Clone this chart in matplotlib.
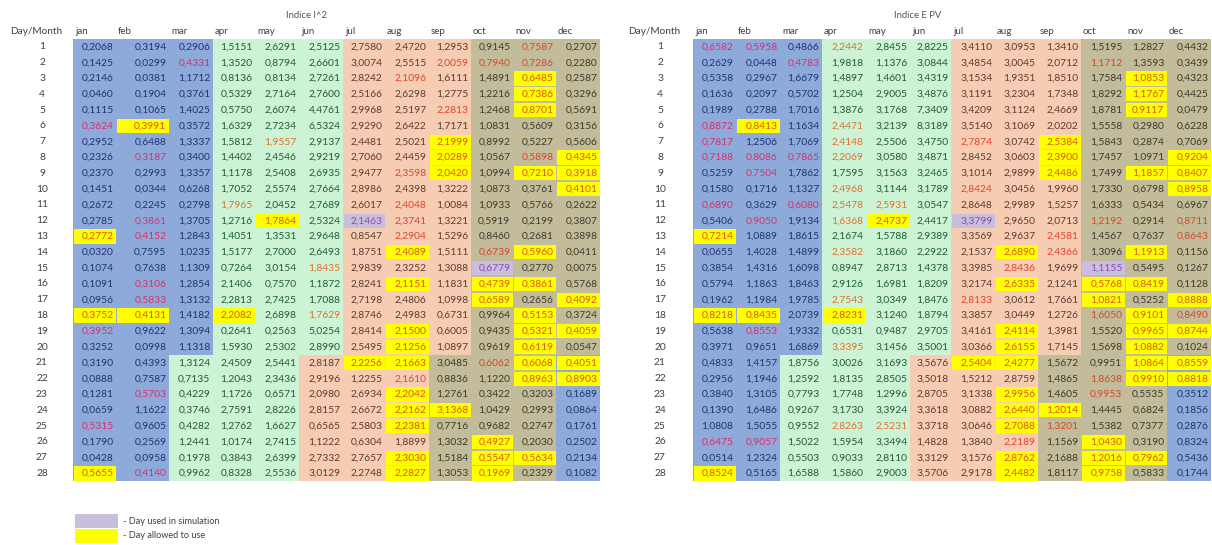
import matplotlib
matplotlib.use("Agg")
import matplotlib.pyplot as plt
from matplotlib.patches import Rectangle

MONTHS = ['jan', 'feb', 'mar', 'apr', 'may', 'jun', 'jul', 'aug', 'sep', 'oct', 'nov', 'dec']
DAYS = list(range(1, 29))

# ---------------- Indice I^2 (left table) ----------------
I2_JAN = [0.2068, 0.1425, 0.2146, 0.0460, 0.1115, 0.3624, 0.2952, 0.2326, 0.2370, 0.1451, 0.2672, 0.2785, 0.2772, 0.0320,
          0.1074, 0.1091, 0.0956, 0.3752, 0.3952, 0.3252, 0.3190, 0.0888, 0.1281, 0.0659, 0.5315, 0.1790, 0.0428, 0.5655]
I2_FEB = [0.3194, 0.0299, 0.0381, 0.1904, 0.1065, 0.3991, 0.6488, 0.3187, 0.2993, 0.0344, 0.2245, 0.3861, 0.4152, 0.7595,
          0.7638, 0.3106, 0.5833, 0.4131, 0.9622, 0.0998, 0.4393, 0.7587, 0.5703, 1.1622, 0.9605, 0.2569, 0.0958, 0.4140]
I2_MAR = [0.2906, 0.4331, 1.1712, 0.3761, 1.4025, 0.3572, 1.3337, 0.3400, 1.3357, 0.6268, 0.2798, 1.3705, 1.2843, 1.0235,
          1.1309, 1.2854, 1.3132, 1.4182, 1.3094, 1.1318, 1.3124, 0.7135, 0.4229, 0.3746, 0.4282, 1.2441, 0.1978, 0.9962]
I2_APR = [1.5151, 1.3520, 0.8136, 0.5329, 0.5750, 1.6329, 1.5812, 1.4402, 1.1178, 1.7052, 1.7965, 1.2716, 1.4051, 1.5177,
          0.7264, 2.1406, 2.2813, 2.2082, 0.2641, 1.5930, 2.4509, 1.2043, 1.1726, 2.7591, 1.2762, 1.0174, 0.3843, 0.8328]
I2_MAY = [2.6291, 0.8794, 0.8134, 2.7164, 2.6074, 2.7234, 1.9557, 2.4546, 2.5408, 2.5574, 2.0452, 1.7864, 1.3531, 2.7000,
          3.0154, 0.7570, 2.7425, 2.6898, 0.2563, 2.5302, 2.5441, 2.3436, 0.6571, 2.8226, 1.6627, 2.7415, 2.6399, 2.5536]
I2_JUN = [2.5125, 2.6601, 2.7261, 2.7600, 4.4761, 6.5324, 2.9137, 2.9219, 2.6935, 2.7664, 2.7689, 2.5324, 2.9648, 2.6493,
          1.8435, 1.1872, 1.7088, 1.7629, 5.0254, 2.8990, 2.8187, 2.9196, 2.0980, 2.8157, 0.6565, 1.1222, 2.7332, 3.0129]
I2_JUL = [2.7580, 3.0074, 2.8242, 2.5166, 2.9968, 2.9290, 2.4481, 2.7060, 2.9477, 2.8986, 2.6017, 2.1463, 0.8547, 1.8751,
          2.9839, 2.8241, 2.7198, 2.8746, 2.8414, 2.5495, 2.2256, 1.2255, 2.6934, 2.6672, 2.5803, 0.6304, 2.7657, 2.2748]
I2_AUG = [2.4720, 2.5515, 2.1096, 2.6298, 2.5197, 2.6422, 2.5021, 2.4459, 2.3598, 2.4398, 2.4048, 2.3741, 2.2904, 2.4089,
          2.3252, 2.1151, 2.4806, 2.4983, 2.1500, 2.1256, 2.1663, 2.1610, 2.2042, 2.2162, 2.2381, 1.8899, 2.3030, 2.2827]
I2_SEP = [1.2953, 2.0059, 1.6111, 1.2775, 2.2813, 1.7171, 2.1999, 2.0289, 2.0420, 1.3222, 1.0084, 1.3221, 1.5296, 1.5111,
          1.3088, 1.1831, 1.0998, 0.6731, 0.6005, 1.0897, 3.0485, 0.8836, 1.2761, 3.1368, 0.7716, 1.3032, 1.5184, 1.3053]
I2_OCT = [0.9145, 0.7940, 1.4891, 1.2216, 1.2468, 1.0831, 0.8992, 1.0567, 1.0994, 1.0873, 1.0933, 0.5919, 0.8460, 0.6739,
          0.6779, 0.4739, 0.6589, 0.9964, 0.9435, 0.9619, 0.6062, 1.1220, 0.3422, 1.0429, 0.9682, 0.4927, 0.5547, 0.1969]
I2_NOV = [0.7587, 0.7286, 0.6485, 0.7386, 0.8701, 0.5609, 0.5227, 0.5898, 0.7210, 0.3761, 0.5766, 0.2199, 0.2681, 0.5960,
          0.2770, 0.3861, 0.2656, 0.5153, 0.5321, 0.6119, 0.6068, 0.8963, 0.3203, 0.2993, 0.2747, 0.2030, 0.5634, 0.2329]
I2_DEC = [0.2707, 0.2280, 0.2587, 0.3296, 0.5691, 0.3156, 0.5606, 0.4345, 0.3918, 0.4101, 0.2622, 0.3807, 0.3898, 0.0411,
          0.0075, 0.5768, 0.4092, 0.3724, 0.4059, 0.0547, 0.4051, 0.8903, 0.1689, 0.0864, 0.1761, 0.2502, 0.2134, 0.1082]

# ---------------- Indice E PV (right table) ----------------
EPV_JAN = [0.6582, 0.2629, 0.5358, 0.1636, 0.1989, 0.8872, 0.7817, 0.7188, 0.5259, 0.1580, 0.6890, 0.5406, 0.7214, 0.0655,
           0.3854, 0.5794, 0.1962, 0.8218, 0.5638, 0.3971, 0.4833, 0.2956, 0.3840, 0.1390, 1.0808, 0.6475, 0.0514, 0.8524]
EPV_FEB = [0.5958, 0.0448, 0.2967, 0.2097, 0.2788, 0.8413, 1.2506, 0.8086, 0.7504, 0.1716, 0.3629, 0.9050, 1.0889, 1.4028,
           1.4316, 1.1863, 1.1984, 0.8435, 0.8553, 0.9651, 1.4157, 1.1946, 1.3105, 1.6486, 1.5055, 0.9057, 1.2324, 0.5165]
EPV_MAR = [0.4866, 0.4783, 1.6679, 0.5702, 1.7016, 1.1634, 1.7069, 0.7865, 1.7862, 1.1327, 0.6080, 1.9134, 1.8615, 1.4899,
           1.6098, 1.8463, 1.9785, 2.0739, 1.9332, 1.6869, 1.8756, 1.2592, 0.7793, 0.9267, 0.9552, 1.5022, 0.5503, 1.6588]
EPV_APR = [2.2442, 1.9818, 1.4897, 1.2504, 1.3876, 2.4471, 2.4148, 2.2069, 1.7595, 2.4968, 2.5478, 1.6368, 2.1674, 2.3582,
           0.8947, 2.9126, 2.7543, 2.8231, 0.6531, 3.3395, 3.0026, 1.8135, 1.7748, 3.1730, 2.8263, 1.5954, 0.9033, 1.5860]
EPV_MAY = [2.8455, 1.1376, 1.4601, 2.9005, 3.1768, 3.2139, 2.5506, 3.0580, 3.1563, 3.1144, 2.5931, 2.4737, 1.5788, 3.1860,
           2.8713, 1.6981, 3.0349, 3.1240, 0.9487, 3.1456, 3.1693, 2.8505, 1.2996, 3.3924, 2.5231, 3.3494, 2.8110, 2.9003]
EPV_JUN = [2.8225, 3.0844, 3.4319, 3.4876, 7.3409, 8.3189, 3.4750, 3.4871, 3.2465, 3.1789, 3.0547, 2.4417, 2.9389, 2.2922,
           1.4378, 1.8209, 1.8476, 1.8794, 2.9705, 3.5001, 3.5676, 3.5018, 2.8705, 3.3618, 3.3718, 1.4828, 3.3129, 3.5706]
EPV_JUL = [3.4110, 3.4854, 3.1534, 3.1191, 3.4209, 3.5140, 2.7874, 2.8452, 3.1014, 2.8424, 2.8648, 3.3799, 3.3569, 2.1537,
           3.3985, 3.2174, 2.8133, 3.3857, 3.4161, 3.0366, 2.5404, 1.5212, 3.1338, 3.0882, 3.0646, 1.3840, 3.1576, 2.9178]
EPV_AUG = [3.0953, 3.0045, 1.9351, 3.2304, 3.1124, 3.1069, 3.0742, 3.0603, 2.9899, 3.0456, 2.9989, 2.9650, 2.9637, 2.6890,
           2.8436, 2.6335, 3.0612, 3.0449, 2.4114, 2.6155, 2.4277, 2.8759, 2.9956, 2.6440, 2.7088, 2.2189, 2.8762, 2.4482]
EPV_SEP = [1.3410, 2.0712, 1.8510, 1.7348, 2.4669, 2.0202, 2.5384, 2.3900, 2.4486, 1.9960, 1.5257, 2.0713, 2.4581, 2.4366,
           1.9699, 2.1241, 1.7661, 1.2726, 1.3981, 1.7145, 1.5672, 1.4865, 1.4605, 1.2014, 1.3201, 1.1569, 2.1688, 1.8117]
EPV_OCT = [1.5195, 1.1712, 1.7584, 1.8292, 1.8781, 1.5558, 1.5843, 1.7457, 1.7499, 1.7330, 1.6333, 1.2192, 1.4567, 1.3096,
           1.1155, 0.5768, 1.0821, 1.6050, 1.5520, 1.5698, 0.9951, 1.8638, 0.9953, 1.4445, 1.5382, 1.0430, 1.2016, 0.9758]
EPV_NOV = [1.2827, 1.3593, 1.0853, 1.1767, 0.9117, 0.2980, 0.2874, 1.0971, 1.1857, 0.6798, 0.5434, 0.2914, 0.7637, 1.1913,
           0.5495, 0.8419, 0.5252, 0.9101, 0.9965, 1.0882, 1.0864, 0.9910, 0.5535, 0.6824, 0.7377, 0.3190, 0.7962, 0.5833]
EPV_DEC = [0.4432, 0.3439, 0.4323, 0.4425, 0.0479, 0.6228, 0.7069, 0.9204, 0.8407, 0.8958, 0.6967, 0.8711, 0.8643, 0.1156,
           0.1267, 0.1128, 0.8888, 0.8490, 0.8744, 0.1024, 0.8559, 0.8818, 0.3512, 0.1856, 0.2876, 0.8324, 0.5436, 0.1744]

# Days highlighted (same in both tables)
ALLOWED = {'jan': [13, 18, 28], 'feb': [6, 18], 'apr': [18], 'may': [12], 'jul': [21],
           'aug': [14, 16, 19, 20, 21, 23, 24, 25, 27, 28], 'sep': [7, 8, 9, 24],
           'oct': [16, 17, 26, 27, 28],
           'nov': [3, 4, 5, 9, 14, 16, 18, 19, 20, 21, 22, 27],
           'dec': [8, 9, 10, 17, 19, 21, 22]}
USED = {'jul': [12], 'oct': [15]}

# Values printed in red font
I2_RED = {'jan': [6, 19, 25], 'feb': [8, 12, 13, 16, 17, 23, 28], 'mar': [2], 'apr': [11], 'may': [7],
          'jun': [15, 18], 'aug': [3, 9, 11, 12, 13, 22], 'sep': [2, 5], 'oct': [2, 14, 21], 'nov': [1, 2, 8]}
EPV_RED = {'jan': [1, 6, 7, 8, 11, 26], 'feb': [1, 8, 9, 12, 19, 26], 'mar': [2, 8, 11],
           'apr': [1, 6, 7, 8, 10, 11, 12, 14, 17, 20, 25], 'may': [11, 25], 'jul': [7, 10, 17],
           'aug': [15, 26], 'sep': [13, 14, 25], 'oct': [2, 12, 18, 22, 23], 'dec': [12, 13, 18]}

I2_VALUES = [I2_JAN, I2_FEB, I2_MAR, I2_APR, I2_MAY, I2_JUN, I2_JUL, I2_AUG, I2_SEP, I2_OCT, I2_NOV, I2_DEC]
EPV_VALUES = [EPV_JAN, EPV_FEB, EPV_MAR, EPV_APR, EPV_MAY, EPV_JUN, EPV_JUL, EPV_AUG, EPV_SEP, EPV_OCT, EPV_NOV, EPV_DEC]

# ---------------- styling ----------------
SEASON_BG = {'winter': '#8EAADB', 'spring': '#CDF3D6', 'summer': '#F6CCB2', 'autumn': '#C3BC9B'}
SEASON_FG = {'winter': '#1F3470', 'spring': '#1E5E2E', 'summer': '#5A3E30', 'autumn': '#3C3A2C'}
SEASON_RED = {'winter': '#D8306A', 'spring': '#E0702A', 'summer': '#E4432E', 'autumn': '#D9452A'}
YELLOW_BG, YELLOW_FG = '#FFFF00', '#DD5A10'
USED_BG, USED_FG = '#C9BEDB', '#8A4CB8'
FONT = 'Lato'


def season(mi, day):
    if mi in (0, 1):
        return 'winter'
    if mi == 2:
        return 'winter' if day <= 20 else 'spring'
    if mi in (3, 4):
        return 'spring'
    if mi == 5:
        return 'spring' if day <= 20 else 'summer'
    if mi in (6, 7):
        return 'summer'
    if mi == 8:
        return 'summer' if day <= 20 else 'autumn'
    if mi in (9, 10):
        return 'autumn'
    return 'autumn' if day <= 20 else 'winter'


W, H = 1212, 545
fig = plt.figure(figsize=(W / 100, H / 100), dpi=100)
ax = fig.add_axes([0, 0, 1, 1])
ax.set_xlim(0, W)
ax.set_ylim(H, 0)
ax.axis('off')

ROW_TOP = 39.0
ROW_H = 15.8


def draw_table(values, red, edges, title, title_x, label_x, dm_x):
    ax.text(title_x, 15, title, ha='center', va='center', fontsize=6.8, color='#555555', family=FONT)
    ax.text(dm_x, 31, 'Day/Month', ha='left', va='center', fontsize=7.2, color='#404040', family=FONT)
    for mi, m in enumerate(MONTHS):
        ax.text(edges[mi] + 2, 31, m, ha='left', va='center', fontsize=7.0, color='#404040', family=FONT)
    for di, d in enumerate(DAYS):
        yc = ROW_TOP + (di + 0.5) * ROW_H
        ax.text(label_x, yc, str(d), ha='center', va='center', fontsize=7.4, color='#404040', family=FONT)
        for mi, m in enumerate(MONTHS):
            s = season(mi, d)
            bg, fg = SEASON_BG[s], SEASON_FG[s]
            if d in red.get(m, []):
                fg = SEASON_RED[s]
            x0, x1 = edges[mi], edges[mi + 1]
            ax.add_patch(Rectangle((x0, ROW_TOP + di * ROW_H), x1 - x0, ROW_H, fc=bg, ec='none', zorder=1))
            if d in ALLOWED.get(m, []):
                ax.add_patch(Rectangle((x0 + 0.5, ROW_TOP + di * ROW_H + 0.8), x1 - x0 - 1, ROW_H - 1.6,
                                       fc=YELLOW_BG, ec='none', zorder=2))
                fg = YELLOW_FG
            if d in USED.get(m, []):
                ax.add_patch(Rectangle((x0 + 0.5, ROW_TOP + di * ROW_H + 0.8), x1 - x0 - 1, ROW_H - 1.6,
                                       fc=USED_BG, ec='none', zorder=2))
                fg = USED_FG
            txt = f"{values[mi][di]:.4f}".replace('.', ',')
            ax.text(x1 - 2.5, yc, txt, ha='right', va='center', fontsize=7.4, color=fg, family=FONT, zorder=3)


LEFT_EDGES = [73, 116, 169, 213, 255, 299, 343, 385, 429, 471, 513, 556, 600]
RIGHT_EDGES = [693, 736, 780, 822, 866, 910, 951, 995, 1038, 1081, 1125, 1167, 1211]

draw_table(I2_VALUES, I2_RED, LEFT_EDGES, 'Indice I^2', 306, 42, 10)
draw_table(EPV_VALUES, EPV_RED, RIGHT_EDGES, 'Indice E PV', 918, 660, 628)

# legend
ax.add_patch(Rectangle((75, 514), 43, 14, fc=USED_BG, ec='none'))
ax.add_patch(Rectangle((75, 529), 43, 14, fc=YELLOW_BG, ec='none'))
ax.text(123, 521, '- Day used in simulation', ha='left', va='center', fontsize=6.6, color='#404040', family=FONT)
ax.text(123, 536, '- Day allowed to use', ha='left', va='center', fontsize=6.6, color='#404040', family=FONT)

fig.savefig('out.png', dpi=100)
